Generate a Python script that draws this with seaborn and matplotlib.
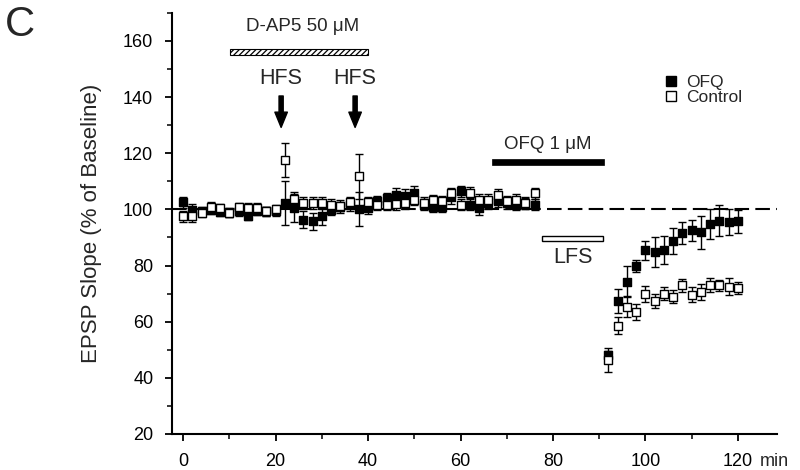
import matplotlib
matplotlib.use("Agg")
import matplotlib.pyplot as plt
from matplotlib.lines import Line2D
from matplotlib.patches import Rectangle
from matplotlib.ticker import MultipleLocator
import seaborn as sns
import pandas as pd

# time points (min)
time_min = [0, 2, 4, 6, 8, 10, 12, 14, 16, 18, 20, 22, 24, 26, 28, 30, 32,
            34, 36, 38, 40, 42, 44, 46, 48, 50, 52, 54, 56, 58, 60, 62, 64,
            66, 68, 70, 72, 74, 76,
            92, 94, 96, 98, 100, 102, 104, 106, 108, 110, 112, 114, 116,
            118, 120]

ofq_mean = [102.5, 99.9, 99.3, 99.9, 99.0, 98.9, 99.3, 97.7, 99.6, 99.3,
            99.3, 102.3, 100.5, 96.3, 95.7, 97.5, 99.9, 100.8, 101.5, 100.1,
            100.5, 102.9, 104.0, 105.2, 104.6, 105.8, 101.7, 101.0, 101.0,
            104.5, 106.4, 101.7, 100.5, 102.3, 102.9, 102.3, 101.7, 102.0,
            101.7,
            48.0, 67.4, 74.3, 79.8, 85.4, 84.9, 85.4, 88.6, 91.6, 92.5, 91.8,
            94.8, 96.0, 95.5, 95.7]
ofq_sem = [2.0, 2.0, 1.5, 1.5, 1.5, 1.5, 1.5, 1.5, 1.5, 1.5,
           1.5, 7.7, 5.0, 3.0, 3.0, 3.0, 2.0, 2.0, 2.0, 6.0,
           2.0, 2.0, 2.0, 2.5, 2.5, 2.5, 2.0, 2.0, 2.0,
           2.5, 2.0, 2.0, 2.5, 2.0, 2.0, 2.0, 2.0, 2.0,
           2.0,
           1.5, 4.3, 5.5, 2.0, 3.3, 5.3, 5.0, 4.6, 3.8, 3.7, 5.8,
           5.2, 5.6, 4.5, 4.0]

control_mean = [97.5, 97.5, 98.7, 100.8, 100.5, 98.7, 100.7, 100.5, 100.5,
                99.3, 100.1, 117.5, 103.7, 102.3, 102.3, 102.3, 101.7, 101.3,
                102.5, 111.8, 102.5, 101.7, 101.7, 101.9, 102.3, 103.5, 102.3,
                103.2, 102.9, 105.8, 101.7, 106.0, 103.5, 103.5, 105.2, 102.9,
                103.5, 102.3, 105.8,
                46.3, 58.6, 65.4, 63.4, 69.9, 67.4, 69.9, 68.9, 72.9, 69.6,
                70.6, 73.1, 72.9, 72.5, 71.9]
control_sem = [2.0, 2.0, 1.5, 1.8, 1.5, 1.5, 1.5, 1.8, 1.8, 1.5,
               1.5, 6.0, 2.5, 2.0, 2.0, 2.0, 2.0, 2.0, 2.0, 8.0,
               2.0, 2.0, 2.0, 2.0, 2.0, 2.0, 2.0, 2.0, 2.0,
               2.0, 2.0, 2.0, 2.0, 2.0, 2.0, 2.0, 2.0, 2.0,
               2.0,
               4.2, 3.0, 3.6, 2.8, 2.8, 2.4, 2.3, 2.4, 2.3, 2.6,
               2.8, 2.4, 2.1, 3.1, 2.1]

x_ticks = [0, 20, 40, 60, 80, 100, 120]
y_ticks = [20, 40, 60, 80, 100, 120, 140, 160]


def draw_group(ax, df, face, z):
    """Error bars first, then the square markers on top."""
    ax.errorbar(df["time"], df["slope"], yerr=df["sem"], fmt="none",
                ecolor="black", elinewidth=1, capsize=3, capthick=1,
                zorder=z)
    sns.scatterplot(data=df, x="time", y="slope", marker="s", s=34,
                    color=face, edgecolor="black", linewidth=1,
                    ax=ax, zorder=z + 1, legend=False)


def draw_annotations(ax):
    # D-AP5 application (hatched bar)
    ax.add_patch(Rectangle((10.2, 155.0), 29.8, 2.0, facecolor="white",
                           edgecolor="black", hatch="//////", lw=0.8))
    ax.text(25.9, 165.0, "D-AP5 50 μM", ha="center", va="center",
            fontsize=13.5)

    # HFS arrows
    for xpos in [21.2, 37.2]:
        ax.text(xpos, 146.8, "HFS", ha="center", va="center",
                fontsize=15.5)
        ax.annotate("", xy=(xpos, 129.2), xytext=(xpos, 140.4),
                    arrowprops=dict(facecolor="black", edgecolor="black",
                                    width=3, headwidth=9, headlength=11,
                                    shrink=0))

    # OFQ application (black bar)
    ax.add_patch(Rectangle((66.7, 115.8), 24.3, 2.2, facecolor="black",
                           edgecolor="black", lw=0.5))
    ax.text(78.9, 123.1, "OFQ 1 μM", ha="center", va="center",
            fontsize=13.5)

    # LFS (open bar)
    ax.add_patch(Rectangle((77.6, 88.8), 13.3, 1.9, facecolor="white",
                           edgecolor="black", lw=1))
    ax.text(84.3, 83.0, "LFS", ha="center", va="center", fontsize=15.5)


def plot_epsp():
    sns.set_style("ticks")
    plt.rcParams["font.family"] = ["Liberation Sans", "DejaVu Sans"]
    plt.rcParams["hatch.linewidth"] = 0.9

    ofq = pd.DataFrame({"time": time_min, "slope": ofq_mean,
                        "sem": ofq_sem})
    ctrl = pd.DataFrame({"time": time_min, "slope": control_mean,
                         "sem": control_sem})

    fig = plt.figure(figsize=(8, 4.7), dpi=100)
    ax = fig.add_axes([0.215, 0.0766, 0.756, 0.896])

    ax.axhline(100, color="black", lw=1.5, ls=(0, (7, 3)), zorder=1)
    draw_group(ax, ofq, "black", 2)
    draw_group(ax, ctrl, "white", 4)
    draw_annotations(ax)

    ax.set_xlim(-2.4, 128.4)
    ax.set_ylim(20, 170)
    ax.set_xticks(x_ticks)
    ax.set_yticks(y_ticks)
    ax.xaxis.set_minor_locator(MultipleLocator(10))
    ax.yaxis.set_minor_locator(MultipleLocator(10))
    ax.tick_params(which="major", direction="out", length=5, width=1.3,
                   labelsize=13, color="black", labelcolor="black", pad=8.5)
    ax.tick_params(which="minor", direction="out", length=3.5, width=1.3)
    sns.despine(ax=ax)
    for side in ["left", "bottom"]:
        ax.spines[side].set_linewidth(1.5)
        ax.spines[side].set_color("black")

    ax.set_ylabel("EPSP Slope (% of Baseline)", fontsize=16)
    ax.yaxis.set_label_coords(-0.116, 0.5)
    ax.set_xlabel("min", fontsize=13, ha="left", va="top")
    ax.xaxis.set_label_coords(0.972, -0.046)

    handles = [
        Line2D([], [], ls="none", marker="s", markersize=6.5,
               markerfacecolor="black", markeredgecolor="black"),
        Line2D([], [], ls="none", marker="s", markersize=6.5,
               markerfacecolor="white", markeredgecolor="black"),
    ]
    ax.legend(handles, ["OFQ", "Control"], loc="upper left",
              bbox_to_anchor=(0.802, 0.869), frameon=False, fontsize=12.5,
              handlelength=0.8, handletextpad=0.5, labelspacing=0.0,
              borderaxespad=0)

    fig.text(0.006, 0.99, "C", fontsize=30, va="top", ha="left")

    fig.savefig("out.png", dpi=100)


def main():
    plot_epsp()


if __name__ == "__main__":
    main()
